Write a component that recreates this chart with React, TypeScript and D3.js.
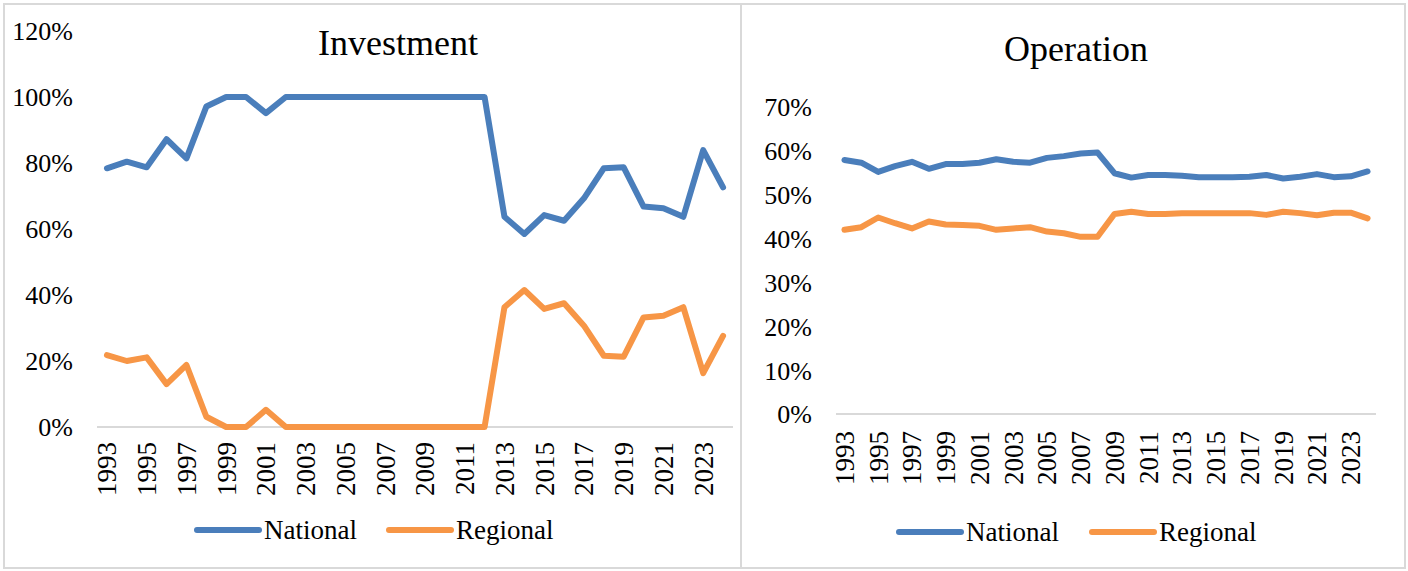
import React, { useRef, useEffect } from "react";
import * as d3 from "d3";

const years = d3.range(1993, 2025).map(String);

const investNational = [
    78.4, 80.4, 78.7, 87.2, 81.4, 97.1, 100, 100, 95.1, 100, 100, 100, 100, 100, 100, 100,
    100, 100, 100, 100, 63.7, 58.5, 64.2, 62.5, 69.3, 78.4, 78.7, 66.8, 66.3, 63.7, 83.9, 72.6,
];
const investRegional = [
    21.8, 20.0, 21.1, 13.0, 18.8, 3.1, 0, 0, 5.2, 0, 0, 0, 0, 0, 0, 0,
    0, 0, 0, 0, 36.3, 41.5, 35.8, 37.5, 30.7, 21.6, 21.3, 33.2, 33.7, 36.3, 16.3, 27.6,
];
const operNational = [
    57.9, 57.3, 55.2, 56.5, 57.5, 55.9, 57.0, 57.0, 57.3, 58.1, 57.5, 57.3, 58.4, 58.8, 59.4, 59.6,
    54.9, 53.9, 54.5, 54.5, 54.3, 54.0, 54.0, 54.0, 54.1, 54.5, 53.7, 54.1, 54.7, 54.0, 54.2, 55.3,
];
const operRegional = [
    42.0, 42.6, 44.8, 43.5, 42.3, 43.9, 43.2, 43.1, 42.9, 42.0, 42.3, 42.6, 41.6, 41.2, 40.4, 40.4,
    45.6, 46.1, 45.6, 45.6, 45.8, 45.8, 45.8, 45.8, 45.8, 45.4, 46.1, 45.8, 45.3, 45.9, 45.9, 44.6,
];

const investTicks = [0, 20, 40, 60, 80, 100, 120];
const operTicks = [0, 10, 20, 30, 40, 50, 60, 70];
const seriesNames = ["National", "Regional"];
const colors = ["#4a7ebb", "#f79646"];
const font = "'Liberation Serif', 'Times New Roman', serif";

interface PanelOpts {
    title: string;
    titleX: number;
    titleY: number;
    x0: number;
    x1: number;
    yBase: number;
    yTop: number;
    yMax: number;
    ticks: number[];
    labelRight: number;
    xLabelY: number;
    legendX: number[];
    legendY: number;
    national: number[];
    regional: number[];
}

function drawPanel(svg: d3.Selection<SVGSVGElement, unknown, null, undefined>, o: PanelOpts) {
    const g = svg.append("g");
    const x = d3.scaleBand<string>().domain(years).range([o.x0, o.x1]).padding(0);
    const y = d3.scaleLinear().domain([0, o.yMax]).range([o.yBase, o.yTop]);
    const cx = (d: string) => (x(d) as number) + x.bandwidth() / 2;

    // y tick labels
    g.selectAll("text.ytick")
        .data(o.ticks)
        .enter()
        .append("text")
        .attr("x", o.labelRight)
        .attr("y", (d) => y(d))
        .attr("dy", "0.36em")
        .attr("text-anchor", "end")
        .attr("font-family", font)
        .attr("font-size", 26)
        .text((d) => d + "%");

    // base axis line
    g.append("line")
        .attr("x1", o.x0)
        .attr("x2", o.x1)
        .attr("y1", y(0))
        .attr("y2", y(0))
        .attr("stroke", "#d9d9d9")
        .attr("stroke-width", 2);

    // x labels, every other year, rotated
    g.selectAll("text.xtick")
        .data(years.filter((_, i) => i % 2 === 0))
        .enter()
        .append("text")
        .attr("transform", (d) => `translate(${cx(d)},${o.xLabelY}) rotate(-90)`)
        .attr("dy", "0.35em")
        .attr("text-anchor", "end")
        .attr("font-family", font)
        .attr("font-size", 27)
        .text((d) => d);

    const line = d3
        .line<number>()
        .x((_, i) => cx(years[i]))
        .y((d) => y(d));

    [o.national, o.regional].forEach((vals, k) => {
        g.append("path")
            .attr("d", line(vals) as string)
            .attr("fill", "none")
            .attr("stroke", colors[k])
            .attr("stroke-width", 6)
            .attr("stroke-linejoin", "round")
            .attr("stroke-linecap", "round");
    });

    g.append("text")
        .attr("x", o.titleX)
        .attr("y", o.titleY)
        .attr("text-anchor", "middle")
        .attr("font-family", font)
        .attr("font-size", 36)
        .text(o.title);

    // legend
    seriesNames.forEach((name, k) => {
        const lx = o.legendX[k];
        g.append("line")
            .attr("x1", lx)
            .attr("x2", lx + 62)
            .attr("y1", o.legendY)
            .attr("y2", o.legendY)
            .attr("stroke", colors[k])
            .attr("stroke-width", 6)
            .attr("stroke-linecap", "round");
        g.append("text")
            .attr("x", lx + 67)
            .attr("y", o.legendY)
            .attr("dy", "0.33em")
            .attr("font-family", font)
            .attr("font-size", 27)
            .text(name);
    });
}

export default function App() {
    const ref = useRef<SVGSVGElement | null>(null);

    useEffect(() => {
        const svg = d3.select(ref.current);
        svg.selectAll("*").remove();

        svg.append("rect").attr("width", 1408).attr("height", 571).attr("fill", "#fff");
        // panel borders
        svg.append("rect")
            .attr("x", 4).attr("y", 4).attr("width", 737).attr("height", 564)
            .attr("fill", "none").attr("stroke", "#d9d9d9").attr("stroke-width", 2);
        svg.append("rect")
            .attr("x", 741).attr("y", 4).attr("width", 664).attr("height", 564)
            .attr("fill", "none").attr("stroke", "#d9d9d9").attr("stroke-width", 2);

        drawPanel(svg, {
            title: "Investment",
            titleX: 398,
            titleY: 55,
            x0: 97,
            x1: 733,
            yBase: 427,
            yTop: 31,
            yMax: 120,
            ticks: investTicks,
            labelRight: 73,
            xLabelY: 442,
            legendX: [197, 389],
            legendY: 530,
            national: investNational,
            regional: investRegional,
        });

        drawPanel(svg, {
            title: "Operation",
            titleX: 1076,
            titleY: 61,
            x0: 836,
            x1: 1376,
            yBase: 414,
            yTop: 107,
            yMax: 70,
            ticks: operTicks,
            labelRight: 812,
            xLabelY: 431,
            legendX: [899, 1092],
            legendY: 532,
            national: operNational,
            regional: operRegional,
        });
    }, []);

    return (
        <svg
            ref={ref}
            width={1408}
            height={571}
            style={{ position: "absolute", left: 0, top: 0, display: "block" }}
        ></svg>
    );
}
